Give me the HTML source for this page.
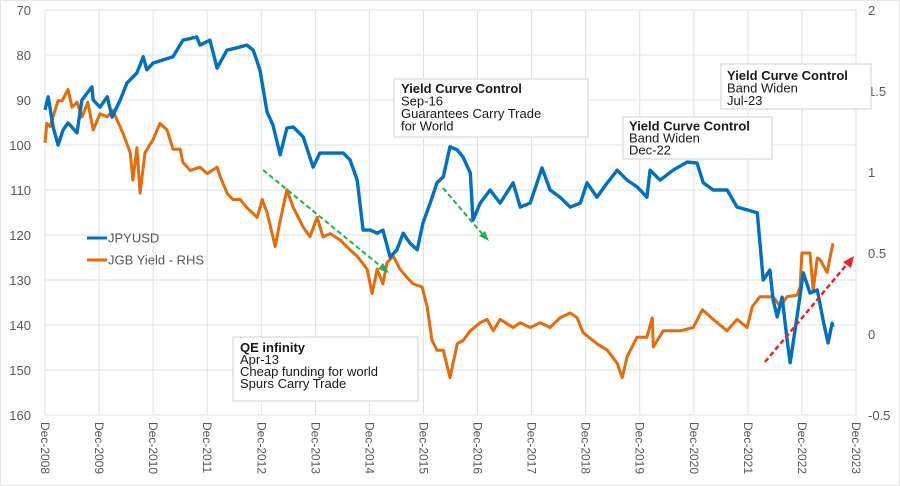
<!DOCTYPE html>
<html><head><meta charset="utf-8"><style>
body{margin:0;background:#fff;}
svg{display:block;font-family:"Liberation Sans",sans-serif;}
</style></head><body>
<svg id="chart" width="900" height="486" viewBox="0 0 900 486" xmlns="http://www.w3.org/2000/svg">
<rect x="0.5" y="0.5" width="899" height="485" fill="#fff" stroke="#e6e6e6"/>
<g id="grid"></g>
<g id="axes"></g>
<g id="series"></g>
<g>
<line x1="263" y1="170" x2="384" y2="269" stroke="#22b14c" stroke-width="2" stroke-dasharray="5,3"/>
<polygon points="389,273 378,269 383,263" fill="#22b14c"/>
<line x1="443" y1="188" x2="484" y2="236" stroke="#22b14c" stroke-width="2" stroke-dasharray="5,3"/>
<polygon points="489,241 479,236 485,231" fill="#22b14c"/>
<line x1="765" y1="362" x2="848" y2="263" stroke="#e8202a" stroke-width="2.5" stroke-dasharray="5,3"/>
<polygon points="854,256 851,268 843,262" fill="#e8202a"/>
</g>
<g>
<line x1="87" y1="238" x2="107" y2="238" stroke="#0070c0" stroke-width="3"/>
<text x="108" y="242.5" font-size="13" fill="#595959">JPYUSD</text>
<line x1="87" y1="260" x2="107" y2="260" stroke="#e46c0a" stroke-width="3"/>
<text x="108" y="264.5" font-size="13" fill="#595959">JGB Yield - RHS</text>
</g>
<g font-size="13" fill="#1a1a1a">
<g>
<rect x="233" y="337" width="185" height="64" fill="#fff" stroke="#d0d0d0"/>
<text x="240" y="352" font-weight="bold">QE infinity</text>
<text x="240" y="364">Apr-13</text>
<text x="240" y="376">Cheap funding for world</text>
<text x="240" y="388">Spurs Carry Trade</text>
</g>
<g>
<rect x="394" y="79" width="194" height="58" fill="#fff" stroke="#d0d0d0"/>
<text x="401" y="93" font-weight="bold">Yield Curve Control</text>
<text x="401" y="105.5">Sep-16</text>
<text x="401" y="118">Guarantees Carry Trade</text>
<text x="401" y="130.5">for World</text>
</g>
<g>
<rect x="623" y="117" width="149" height="42" fill="#fff" stroke="#d0d0d0"/>
<text x="629" y="130.5" font-weight="bold">Yield Curve Control</text>
<text x="629" y="142.5">Band Widen</text>
<text x="629" y="154.5">Dec-22</text>
</g>
<g>
<rect x="721" y="64" width="150" height="45" fill="#fff" stroke="#d0d0d0"/>
<text x="727" y="80" font-weight="bold">Yield Curve Control</text>
<text x="727" y="92.5">Band Widen</text>
<text x="727" y="105">Jul-23</text>
</g>
</g>
</svg>
<script>
// months since Dec-2008 and values
const jpyMonths=[0,0.7,1.8,2.9,4.0,5.1,7.1,8.2,10.4,10.7,12.2,13.8,14.9,16.7,18.2,20.4,21.8,22.6,24.0,26.2,28.4,30.6,33.7,34.4,36.6,38.2,40.4,42.6,44.8,46.2,47.7,49.3,50.6,52.2,53.7,55.1,57.3,59.5,61.0,66.2,67.7,69.3,70.6,72.2,73.7,75.0,76.6,78.1,79.5,81.0,82.6,83.9,85.5,87.0,88.4,89.9,91.5,92.8,94.4,95.0,96.6,98.8,101.0,103.9,105.5,107.7,110.3,112.1,114.3,116.6,118.8,120.3,122.5,124.8,127.0,129.2,131.4,133.6,134.3,136.5,139.4,142.5,144.7,146.1,148.3,151.4,153.6,155.8,158.1,159.4,160.9,161.6,162.5,163.6,164.7,165.4,166.9,168.3,169.8,171.4,172.7,173.8,174.7,174.9];
const jpyValues=[92.2,89.3,96.0,100.0,96.7,95.1,97.3,90.0,87.1,90.0,91.6,89.3,93.8,90.0,86.2,84.0,80.4,83.3,81.8,81.1,80.4,76.7,76.0,77.8,76.7,82.9,78.9,78.4,77.8,78.9,83.3,92.7,95.6,102.2,96.2,96.0,98.2,104.9,101.8,101.8,103.3,107.8,118.9,118.9,119.6,118.9,124.9,123.3,119.6,121.8,123.3,117.3,112.9,108.4,107.1,100.4,101.1,102.7,106.2,116.7,112.9,110.0,112.9,108.4,113.8,112.9,105.1,110.0,111.6,113.8,112.9,108.4,111.6,108.4,105.6,107.8,109.3,111.6,105.6,107.8,105.6,103.8,104.0,108.4,110.0,110.0,113.8,114.4,115.1,130.0,127.8,134.4,138.2,133.8,143.3,148.4,138.2,128.4,132.9,132.2,138.9,144.0,139.6,140.4];
const jgbMonths=[0,0.4,1.1,2.9,3.8,5.1,6.0,7.1,8.2,9.5,10.7,12.2,13.8,15.1,16.0,17.3,18.9,19.5,20.4,21.1,22.2,24.0,25.5,27.1,28.4,30.0,30.6,32.2,34.4,36.0,38.2,38.9,40.4,41.7,43.3,44.8,47.1,48.2,49.3,51.1,52.2,53.7,55.1,57.3,58.8,60.4,61.7,63.3,65.5,67.7,69.3,71.5,72.6,73.7,75.0,75.9,77.3,78.8,80.3,81.7,83.7,84.8,85.9,87.0,88.4,89.9,91.5,92.8,94.4,96.6,98.1,99.5,101.0,103.9,105.5,107.7,109.9,112.1,114.3,116.6,118.1,119.4,122.5,124.8,127.0,128.1,129.2,131.4,133.6,134.8,135.0,137.2,141.0,143.9,145.9,148.3,151.4,153.6,155.8,157.0,158.7,161.6,163.2,164.7,166.9,167.6,168.0,169.8,170.5,171.4,172.0,173.6,174.3,174.9];
const jgbValues=[1.18,1.30,1.28,1.44,1.44,1.51,1.40,1.43,1.34,1.43,1.26,1.36,1.34,1.38,1.32,1.24,1.12,0.95,1.15,0.87,1.12,1.20,1.30,1.26,1.14,1.14,1.06,1.01,1.03,0.99,1.03,0.97,0.87,0.83,0.83,0.78,0.72,0.83,0.75,0.54,0.70,0.89,0.78,0.66,0.60,0.72,0.60,0.62,0.58,0.52,0.48,0.40,0.25,0.40,0.31,0.44,0.48,0.40,0.35,0.31,0.29,0.17,-0.04,-0.10,-0.10,-0.27,-0.06,-0.04,0.02,0.07,0.09,0.02,0.09,0.04,0.07,0.04,0.07,0.04,0.10,0.13,0.10,0.01,-0.06,-0.10,-0.18,-0.27,-0.14,-0.02,-0.02,0.10,-0.08,0.02,0.02,0.04,0.15,0.09,0.02,0.09,0.04,0.17,0.23,0.23,0.17,0.23,0.24,0.29,0.50,0.50,0.27,0.47,0.46,0.38,0.48,0.56];
const xTickLabels=["Dec-2008","Dec-2009","Dec-2010","Dec-2011","Dec-2012","Dec-2013","Dec-2014","Dec-2015","Dec-2016","Dec-2017","Dec-2018","Dec-2019","Dec-2020","Dec-2021","Dec-2022","Dec-2023"];
const leftTicks=[70,80,90,100,110,120,130,140,150,160];
const rightTicks=[2,1.5,1,0.5,0,-0.5];

const NS="http://www.w3.org/2000/svg";
const X0=45,X1=856,Y0=10,Y1=415;
const xScale=m=>X0+m/180*(X1-X0);
const yLeft=v=>Y0+(v-70)/90*(Y1-Y0);
const yRight=r=>Y0+(2-r)/2.5*(Y1-Y0);
function mk(tag,attrs,parent){const e=document.createElementNS(NS,tag);for(const k in attrs)e.setAttribute(k,attrs[k]);parent.appendChild(e);return e;}
const grid=document.getElementById('grid'),axes=document.getElementById('axes'),series=document.getElementById('series');
leftTicks.forEach(v=>{
  const y=yLeft(v);
  const l=mk('line',{x1:X0,x2:X1,y1:y,y2:y,stroke:'#e0e0e0','stroke-width':1},grid);
  
  
  const t=mk('text',{x:31,y:y+5,'text-anchor':'end','font-size':13,fill:'#595959'},axes);
  t.textContent=v;
  
  
});
xTickLabels.forEach((s,i)=>{
  const x=xScale(i*12);
  const l=mk('line',{x1:x,x2:x,y1:Y0,y2:Y1,stroke:'#e0e0e0','stroke-width':1},grid);
  
  
  const t=mk('text',{x:0,y:0,transform:`translate(${x-4},${Y1+7}) rotate(90)`,'font-size':12,fill:'#595959'},axes);
  t.textContent=s;
  
  
});
rightTicks.forEach(r=>{
  const t=mk('text',{x:868,y:yRight(r)+5,'font-size':13,fill:'#595959'},axes);
  t.textContent=r;
  
  
});
const jgbPts=jgbMonths.map((m,i)=>xScale(m).toFixed(1)+','+yRight(jgbValues[i]).toFixed(1)).join(' ');
const jgb=mk('polyline',{points:jgbPts,fill:'none',stroke:'#e46c0a','stroke-width':3,'stroke-linejoin':'round'},series);


const jpyPts=jpyMonths.map((m,i)=>xScale(m).toFixed(1)+','+yLeft(jpyValues[i]).toFixed(1)).join(' ');
const jpy=mk('polyline',{points:jpyPts,fill:'none',stroke:'#0070c0','stroke-width':3.4,'stroke-linejoin':'round'},series);


</script>
</body></html>
